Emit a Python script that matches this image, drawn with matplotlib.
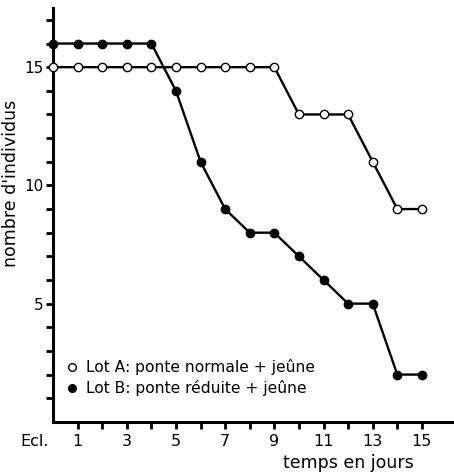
import matplotlib
matplotlib.use("Agg")
import matplotlib.pyplot as plt
from matplotlib.lines import Line2D

days = list(range(0, 16))
lot_a = [15, 15, 15, 15, 15, 15, 15, 15, 15, 15, 13, 13, 13, 11, 9, 9]
lot_b = [16, 16, 16, 16, 16, 14, 11, 9, 8, 8, 7, 6, 5, 5, 2, 2]
xtick_pos = [0, 1, 3, 5, 7, 9, 11, 13, 15]
xtick_labels = ["Ecl.", "1", "3", "5", "7", "9", "11", "13", "15"]
ytick_pos = [5, 10, 15]
label_a = "Lot A: ponte normale + jeûne"
label_b = "Lot B: ponte réduite + jeûne"

plt.rcParams['font.family'] = ['DejaVu Sans']
fig = plt.figure(figsize=(4.54, 4.74), dpi=100)
ax = fig.add_axes([0.1167, 0.110, 0.883, 0.873])

ax.plot(days, lot_b, color='black', lw=1.7, marker='o', ms=6.0,
        mfc='black', mec='black', zorder=3, clip_on=False)
ax.plot(days, lot_a, color='black', lw=1.7, marker='o', ms=6.0,
        mfc='white', mec='black', mew=1.0, zorder=4, clip_on=False)

ax.set_xlim(0, 16.3)
ax.set_ylim(0, 17.5)
for s in ['top', 'right']:
    ax.spines[s].set_visible(False)
for s in ['left', 'bottom']:
    ax.spines[s].set_linewidth(2.2)

ax.set_xticks(range(1, 16), minor=True)
ax.set_xticks(xtick_pos[1:])
ax.set_xticklabels(xtick_labels[1:], fontsize=11.5)
ax.set_yticks(range(1, 18), minor=True)
ax.set_yticks(ytick_pos)
ax.set_yticklabels([str(v) for v in ytick_pos], fontsize=11)
ax.tick_params(axis='both', which='both', direction='out', width=2.0, length=5)
ax.tick_params(axis='x', pad=4)
ax.tick_params(axis='y', pad=2)
ax.text(-0.15, -0.5, xtick_labels[0], ha='right', va='top', fontsize=11.5)

ax.set_xlabel("temps en jours", fontsize=12.5, va='center')
ax.xaxis.set_label_coords(0.736, -0.100)
ax.set_ylabel("nombre d'individus", fontsize=12.5)
ax.yaxis.set_label_coords(-0.083, 0.577)

handles = [
    Line2D([], [], ls='none', marker='o', ms=5.5, mfc='white', mec='black', mew=1.0),
    Line2D([], [], ls='none', marker='o', ms=5.5, mfc='black', mec='black'),
]
ax.legend(handles, [label_a, label_b], loc='lower left', bbox_to_anchor=(0.0, 0.04),
          frameon=False, fontsize=11.2, handletextpad=0.3, handlelength=1.2,
          labelspacing=0.3, borderaxespad=0.2)

fig.savefig("out.png", dpi=100)
